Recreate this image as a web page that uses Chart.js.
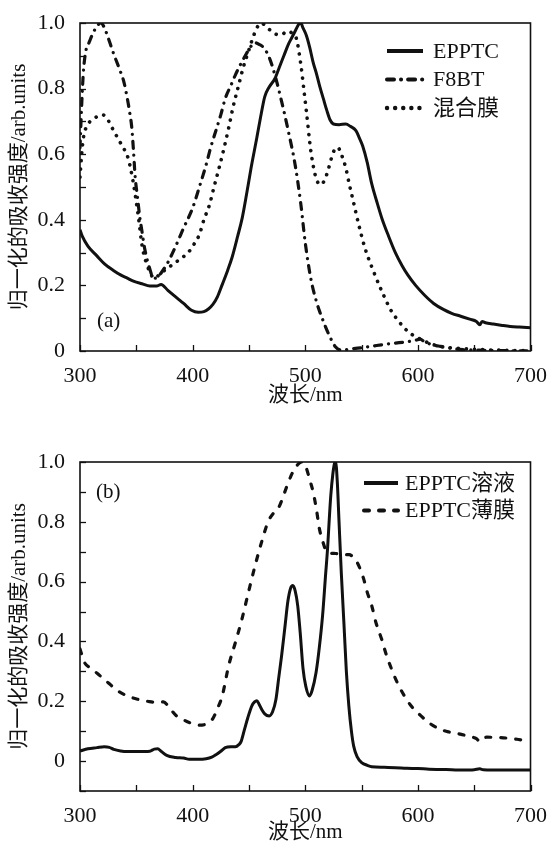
<!DOCTYPE html>
<html>
<head>
<meta charset="utf-8">
<script src="https://cdn.jsdelivr.net/npm/chart.js@4.4.1/dist/chart.umd.min.js"></script>
<style>
  body { margin: 0; background: #fff; }
  .wrap { position: absolute; left: 0; }
</style>
</head>
<body>
<div class="wrap" style="top:0"><canvas id="chartA" width="551" height="420"></canvas></div>
<div class="wrap" style="top:420px"><canvas id="chartB" width="551" height="425"></canvas></div>
<script>
// (a) EPPTC film
const epptcWl = [300,302,307,315,322,330,336,342,348,355,362,368,372,378,386,392,399,405,410,414,418,422,426,431,435,440,444,448,452,457,461,464,468,473,477,481,485,488,491,494,496,498,501,504,507,510,513,516,519,522,525,530,536,540,545,548,551,555,559,564,568,574,580,586,591,598,606,614,623,630,638,646,652,655,657,660,667,675,682,690,700];
const epptcAbs = [0.37,0.35,0.32,0.29,0.265,0.245,0.232,0.222,0.212,0.205,0.198,0.198,0.203,0.185,0.162,0.145,0.124,0.118,0.12,0.128,0.142,0.165,0.2,0.245,0.285,0.35,0.405,0.48,0.56,0.65,0.725,0.775,0.805,0.83,0.865,0.9,0.935,0.955,0.975,0.995,1.0,0.985,0.962,0.925,0.88,0.845,0.805,0.77,0.735,0.705,0.692,0.69,0.692,0.685,0.672,0.65,0.625,0.575,0.51,0.45,0.405,0.35,0.3,0.26,0.232,0.2,0.17,0.145,0.126,0.115,0.106,0.097,0.09,0.08,0.09,0.086,0.082,0.078,0.075,0.073,0.071];

// (a) F8BT
const f8btWl = [300,301.5,303,305.5,308,311,315,318.5,321,324,327,330,335,339,342,344,346,347.5,349,351,353,355,357,359.5,362,365,368,372,378,385,392,400,406,412,416,420.5,425,429,434,438,442,446.7,451,455,459,463,468,473,479,485,491,496,500,505,510,515,521,527,532,540,550,560,570,580,590,597,602,606,612,620,630,640,650,660,680,700];
const f8btAbs = [0.62,0.75,0.85,0.92,0.94,0.965,0.99,1.0,0.99,0.965,0.935,0.905,0.86,0.82,0.77,0.73,0.68,0.61,0.53,0.47,0.41,0.365,0.32,0.28,0.25,0.223,0.222,0.238,0.27,0.32,0.375,0.436,0.5,0.568,0.62,0.67,0.72,0.77,0.81,0.842,0.87,0.9,0.925,0.94,0.935,0.925,0.895,0.842,0.761,0.67,0.568,0.45,0.33,0.22,0.15,0.1,0.05,0.012,0.003,0.006,0.01,0.015,0.02,0.024,0.028,0.032,0.036,0.028,0.02,0.014,0.008,0.004,0.003,0.002,0.001,0];

// (a) blend film
const blendWl = [300,301.5,303,307,313,320,324,327,331,335,340,343,345,347,349,351,352,355,357,359.5,362,364,367,370,374,380,386,392,397,402,406,410,415,419,423.5,428,432,436,441,445,449.6,453,457,461,465,470,475,479,484,488,492,496.5,499,501,505,509.6,514,517,520,523,526,529,532,536,539,542,547.5,553,560.6,568,576.6,582,588,594,600,607,614,622,632,645,667,700];
const blendAbs = [0.53,0.6,0.65,0.69,0.71,0.72,0.71,0.69,0.665,0.64,0.61,0.585,0.555,0.52,0.477,0.43,0.405,0.324,0.29,0.263,0.24,0.228,0.222,0.232,0.243,0.258,0.273,0.288,0.304,0.33,0.355,0.4,0.446,0.5,0.558,0.62,0.68,0.745,0.812,0.865,0.914,0.95,0.985,1.0,0.99,0.975,0.965,0.965,0.975,0.97,0.954,0.863,0.79,0.731,0.609,0.527,0.507,0.52,0.548,0.585,0.614,0.62,0.6,0.558,0.51,0.466,0.385,0.314,0.243,0.182,0.121,0.095,0.07,0.052,0.04,0.028,0.019,0.013,0.009,0.006,0.003,0.001];

// (b) EPPTC solution
const solWl = [300,307,315,321.5,326,330,336,342,350,357,362,366,369,372,377,385,392,397,405,412,417,421,425,429,434,438,441,443,446,449,452.6,455,457,459,461.3,464,468,471,474,476.5,479,482,484.6,487,489,491,493.3,495.5,498,500.5,503.8,506,509.6,512.5,515.4,518,519.8,521.5,522.7,524.5,526,527,528.5,530,532,534.3,536.5,538.7,541,543,546,550.4,555,559,570,580,590,600,610,620,630,640,650,655,658,667,680,690,700];
const solAbs = [0.034,0.041,0.045,0.048,0.046,0.039,0.034,0.032,0.032,0.032,0.033,0.04,0.041,0.033,0.019,0.012,0.01,0.006,0.006,0.008,0.013,0.022,0.033,0.045,0.048,0.048,0.055,0.065,0.105,0.145,0.185,0.198,0.202,0.19,0.173,0.158,0.151,0.165,0.207,0.28,0.352,0.45,0.535,0.578,0.587,0.57,0.52,0.43,0.31,0.25,0.218,0.235,0.296,0.38,0.487,0.62,0.71,0.82,0.889,0.96,0.995,1.0,0.93,0.8,0.63,0.464,0.3,0.185,0.1,0.05,0.015,-0.006,-0.014,-0.019,-0.021,-0.022,-0.024,-0.025,-0.027,-0.028,-0.029,-0.03,-0.029,-0.026,-0.029,-0.03,-0.03,-0.03,-0.03];

// (b) EPPTC film
const filmWl = [300,304,310,316,325,333.5,342,351,360,368,374,380,385.6,391,397,406,412,417.6,422,426.3,432,438,443.8,449.6,455.5,461.3,467,472,476,480,483,489,493,497,501,504,507,510,512.5,515.5,518.3,522,527,533,539,543,546,549,551.8,555,559,563,567.8,572,576.6,582,588,595,602.8,611,620,628,637.7,646,652,655,658,661,670,678.5,688,696,700];
const filmAbs = [0.375,0.33,0.31,0.291,0.262,0.235,0.218,0.207,0.2,0.196,0.198,0.175,0.151,0.14,0.129,0.12,0.124,0.14,0.175,0.218,0.319,0.397,0.475,0.565,0.654,0.733,0.8,0.83,0.845,0.88,0.912,0.967,0.99,1.0,0.979,0.94,0.9,0.84,0.778,0.735,0.705,0.695,0.694,0.69,0.69,0.68,0.665,0.64,0.61,0.565,0.52,0.46,0.408,0.355,0.308,0.26,0.218,0.18,0.151,0.125,0.106,0.097,0.09,0.082,0.075,0.065,0.075,0.08,0.079,0.077,0.073,0.068,0.066];

const serif = '"Liberation Serif", "Noto Sans CJK SC", serif';
const ink = '#111';

const pts = (xs, ys) => xs.map((x, i) => ({ x: x, y: ys[i] }));

// ticks pointing into the plot, plus the closed frame
const frameTicks = {
  id: 'frameTicks',
  afterDatasetsDraw(chart) {
    const { ctx, chartArea: a, scales: { x, y } } = chart;
    ctx.save();
    ctx.strokeStyle = ink;
    ctx.lineWidth = 1.3;
    x.ticks.forEach(t => {
      const px = Math.round(x.getPixelForValue(t.value)) + 0.5;
      ctx.beginPath();
      ctx.moveTo(px, a.bottom);
      ctx.lineTo(px, a.bottom - 6);
      ctx.stroke();
    });
    y.ticks.forEach(t => {
      const py = Math.round(y.getPixelForValue(t.value)) + 0.5;
      ctx.beginPath();
      ctx.moveTo(a.left, py);
      ctx.lineTo(a.left + 6, py);
      ctx.stroke();
    });
    ctx.lineWidth = 1.6;
    ctx.strokeRect(a.left, a.top, a.right - a.left, a.bottom - a.top);
    ctx.restore();
  }
};

// legend and panel tag drawn inside the plot
const insideLegend = {
  id: 'insideLegend',
  afterDraw(chart, args, opts) {
    const ctx = chart.ctx;
    ctx.save();
    ctx.fillStyle = ink;
    ctx.strokeStyle = ink;
    ctx.font = '22px ' + serif;
    ctx.textBaseline = 'middle';
    chart.data.datasets.forEach((ds, i) => {
      const yy = opts.y + i * opts.rowH;
      ctx.lineWidth = ds.borderWidth + 0.8;
      ctx.lineCap = ds.borderCapStyle || 'butt';
      ctx.setLineDash(ds.borderDash || []);
      ctx.beginPath();
      ctx.moveTo(opts.x, yy);
      ctx.lineTo(opts.x + opts.len, yy);
      ctx.stroke();
      ctx.fillText(ds.label, opts.textX, yy + 1);
    });
    ctx.font = '21px ' + serif;
    ctx.fillText(opts.tag, opts.tagX, opts.tagY);
    ctx.restore();
  }
};

const solidStyle = { borderColor: ink, borderWidth: 3, borderDash: [], borderCapStyle: 'butt' };
const dashDotStyle = { borderColor: ink, borderWidth: 3.2, borderDash: [7, 7, 0.1, 7], borderCapStyle: 'round' };
const dotStyle = { borderColor: ink, borderWidth: 3.6, borderDash: [0.1, 8], borderCapStyle: 'round' };
const dashStyle = { borderColor: ink, borderWidth: 3.2, borderDash: [5, 10], borderCapStyle: 'round' };

const buildOptions = (yMin, padTop, xHeight, xTitlePad, legend) => ({
  responsive: false,
  animation: false,
  devicePixelRatio: 1,
  layout: { padding: { top: padTop, right: 13, left: 0, bottom: 0 } },
  elements: { point: { radius: 0 }, line: { cubicInterpolationMode: 'monotone' } },
  plugins: { legend: { display: false }, tooltip: { enabled: false }, insideLegend: legend },
  scales: {
    x: {
      type: 'linear', min: 300, max: 700,
      grid: { display: false }, border: { display: false },
      ticks: {
        stepSize: 50, autoSkip: false, maxRotation: 0, padding: 4, color: ink,
        font: { family: serif, size: 22 },
        callback: v => (v % 100 === 0 ? String(v) : '')
      },
      title: { display: true, text: '波长/nm', color: ink, font: { family: serif, size: 21 }, padding: { top: 0, bottom: xTitlePad } },
      afterFit: s => { s.height = xHeight; }
    },
    y: {
      type: 'linear', min: yMin, max: 1,
      grid: { display: false }, border: { display: false },
      ticks: {
        stepSize: 0.1, autoSkip: false, padding: 7, color: ink,
        font: { family: serif, size: 22 },
        callback: v => {
          const k = Math.round(v * 10);
          if (k % 2 !== 0) return '';
          return k === 0 ? '0' : (k / 10).toFixed(1);
        }
      },
      title: { display: true, text: '归一化的吸收强度/arb.units', color: ink, font: { family: serif, size: 21 }, padding: { top: 7, bottom: 0 } },
      afterFit: s => { s.width = 80; }
    }
  }
});

const drawCharts = () => {
  new Chart(document.getElementById('chartA').getContext('2d'), {
    type: 'line',
    data: {
      datasets: [
        { label: 'EPPTC', data: pts(epptcWl, epptcAbs), ...solidStyle },
        { label: 'F8BT', data: pts(f8btWl, f8btAbs), ...dashDotStyle },
        { label: '混合膜', data: pts(blendWl, blendAbs), ...dotStyle }
      ]
    },
    options: buildOptions(0, 23, 69, 12, { x: 387, len: 36, textX: 433, y: 51, rowH: 28.5, tag: '(a)', tagX: 97, tagY: 321 }),
    plugins: [frameTicks, insideLegend]
  });

  new Chart(document.getElementById('chartB').getContext('2d'), {
    type: 'line',
    data: {
      datasets: [
        { label: 'EPPTC溶液', data: pts(solWl, solAbs), ...solidStyle },
        { label: 'EPPTC薄膜', data: pts(filmWl, filmAbs), ...dashStyle }
      ]
    },
    options: buildOptions(-0.1, 42, 54, 0, { x: 364, len: 34, textX: 405, y: 63, rowH: 27.5, tag: '(b)', tagX: 96, tagY: 72 }),
    plugins: [frameTicks, insideLegend]
  });
};

// make sure the serif face is ready before the canvas text is drawn
Promise.all([
  document.fonts.load('22px "Liberation Serif"'),
  document.fonts.load('22px "Noto Sans CJK SC"', '波长')
]).catch(() => {}).then(drawCharts);
</script>
</body>
</html>
